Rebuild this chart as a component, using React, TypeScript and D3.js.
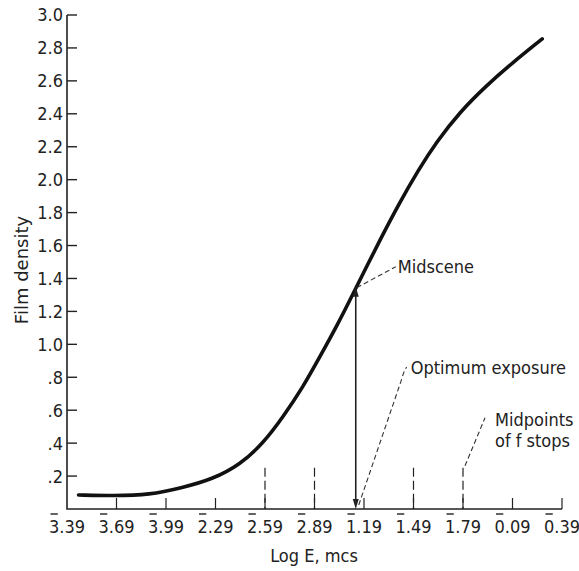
import React, { useEffect, useRef, useState } from 'react';
import * as d3 from 'd3';

// characteristic curve
const logE = [-2.54, -2.33, -2.11, -1.91, -1.73, -1.56, -1.42, -1.3, -1.18, -1.08, -0.97, -0.88, -0.8, -0.71, -0.6, -0.48, -0.37, -0.23, -0.07, 0.09, 0.27];
const density = [0.085, 0.08, 0.085, 0.13, 0.18, 0.27, 0.4, 0.56, 0.74, 0.92, 1.12, 1.3, 1.46, 1.64, 1.85, 2.06, 2.23, 2.41, 2.57, 2.71, 2.855];

const xTicks = [-2.61, -2.31, -2.01, -1.71, -1.41, -1.11, -0.81, -0.51, -0.21, 0.09, 0.39];
// the first digit of each label carries a bar (negative characteristic)
const xTickBars = ['3', '3', '3', '2', '2', '2', '1', '1', '1', '0', '0'];
const xTickRest = ['.39', '.69', '.99', '.29', '.59', '.89', '.19', '.49', '.79', '.09', '.39'];
const yTicks = [0.2, 0.4, 0.6, 0.8, 1.0, 1.2, 1.4, 1.6, 1.8, 2.0, 2.2, 2.4, 2.6, 2.8, 3.0];
const yTickLabels = ['.2', '.4', '.6', '.8', '1.0', '1.2', '1.4', '1.6', '1.8', '2.0', '2.2', '2.4', '2.6', '2.8', '3.0'];

// midpoints of f stops (dashed markers) and the midscene point
const fStopMids = [-1.41, -1.11, -0.51, -0.21];
const fStopHeight = 0.25;
const midscene = { logE: -0.86, density: 1.35 };

const FONT = "'DejaVu Sans Condensed', 'Liberation Sans Narrow', 'DejaVu Sans', sans-serif";

export default function App() {
  const width = 579;
  const height = 571;
  const labelRefs = useRef<(SVGTextElement | null)[]>([]);
  const [bars, setBars] = useState<{ x1: number; x2: number }[]>([]);

  const x = d3.scaleLinear().domain([-2.61, 0.39]).range([67, 562]);
  const y = d3.scaleLinear().domain([0, 3]).range([509, 15]);

  useEffect(() => {
    // measure the first glyph of each x label so its bar sits right over it
    const b = labelRefs.current.map((el) => {
      if (!el) return { x1: 0, x2: 0 };
      const r = el.getExtentOfChar(0);
      return { x1: r.x + 1.5, x2: r.x + r.width - 1.5 };
    });
    setBars(b);
  }, []);

  const line = d3.line<number>()
    .x((_, i) => x(logE[i]))
    .y((d) => y(d))
    .curve(d3.curveBasis);

  const mx = x(midscene.logE);
  const my = y(midscene.density);
  const y0 = y(0);
  const fy = y(fStopHeight);
  const textStyle = { fontFamily: FONT, fontSize: 18, fill: '#222', fontStretch: 'condensed' as const };

  return (
    <div style={{ position: 'absolute', left: 0, top: 0 }}>
      <svg width={width} height={height} style={{ display: 'block', background: '#fff' }}>
        {/* axes */}
        <path d={`M${x(-2.61)},${y(3)} V${y0} H${x(0.39)}`} fill="none" stroke="#222" strokeWidth={1.6} />
        {yTicks.map((t, i) => (
          <g key={t}>
            <line x1={x(-2.61)} x2={x(-2.61) + 10} y1={y(t)} y2={y(t)} stroke="#222" strokeWidth={1.4} />
            <text x={x(-2.61) - 4} y={y(t)} dy="0.36em" textAnchor="end" style={textStyle}>{yTickLabels[i]}</text>
          </g>
        ))}
        {xTicks.map((t, i) => (
          <g key={t}>
            {i > 0 && <line x1={x(t)} x2={x(t)} y1={y0} y2={y0 - 11} stroke="#222" strokeWidth={1.2} />}
            <text ref={(el) => { labelRefs.current[i] = el; }} x={x(t)} y={533} textAnchor="middle" style={textStyle}>
              {xTickBars[i] + xTickRest[i]}
            </text>
          </g>
        ))}
        {bars.map((b, i) => (
          <line key={i} x1={b.x1} x2={b.x2} y1={514} y2={514} stroke="#222" strokeWidth={1.4} />
        ))}

        {/* axis titles */}
        <text x={314} y={562} textAnchor="middle" style={textStyle}>Log E, mcs</text>
        <text transform="translate(28,270) rotate(-90)" textAnchor="middle" style={{ ...textStyle, fontStretch: 'normal', fontFamily: "'DejaVu Sans', sans-serif" }}>Film density</text>

        {/* f-stop midpoints */}
        {fStopMids.map((f) => (
          <line key={f} x1={x(f)} x2={x(f)} y1={fy} y2={y0} stroke="#222" strokeWidth={1.2} strokeDasharray="9,4" />
        ))}

        {/* curve */}
        <path d={line(density) || ''} fill="none" stroke="#111" strokeWidth={3.6} strokeLinecap="round" />

        {/* optimum exposure arrow, heads at both ends */}
        <line x1={mx} x2={mx} y1={my + 8} y2={y0 - 8} stroke="#222" strokeWidth={1.6} />
        <path d={`M${mx},${my} L${mx - 3},${my + 10} L${mx + 3},${my + 10} Z`} fill="#222" />
        <path d={`M${mx},${y0} L${mx - 3},${y0 - 10} L${mx + 3},${y0 - 10} Z`} fill="#222" />

        {/* leaders */}
        <path d={`M${mx + 1},${my + 1} L${mx + 40},${my - 20}`} fill="none" stroke="#333" strokeWidth={1.1} strokeDasharray="5,3" />
        <path d={`M${mx + 3},${y0 - 4} L${mx + 46},${y0 - 130} Q${mx + 48},${y0 - 138} ${mx + 51},${y0 - 142}`} fill="none" stroke="#333" strokeWidth={1.1} strokeDasharray="5,3" />
        <path d={`M${x(-0.21) + 2},${fy - 2} L${x(-0.21) + 22},${fy - 50}`} fill="none" stroke="#333" strokeWidth={1.1} strokeDasharray="5,3" />

        {/* annotations */}
        <text x={mx + 42} y={my - 14} style={textStyle}>Midscene</text>
        <text x={mx + 55} y={y0 - 135} style={textStyle}>Optimum exposure</text>
        <text x={x(-0.21) + 32} y={fy - 42} style={textStyle}>Midpoints</text>
        <text x={x(-0.21) + 32} y={fy - 21} style={textStyle}>of f stops</text>
      </svg>
    </div>
  );
}
